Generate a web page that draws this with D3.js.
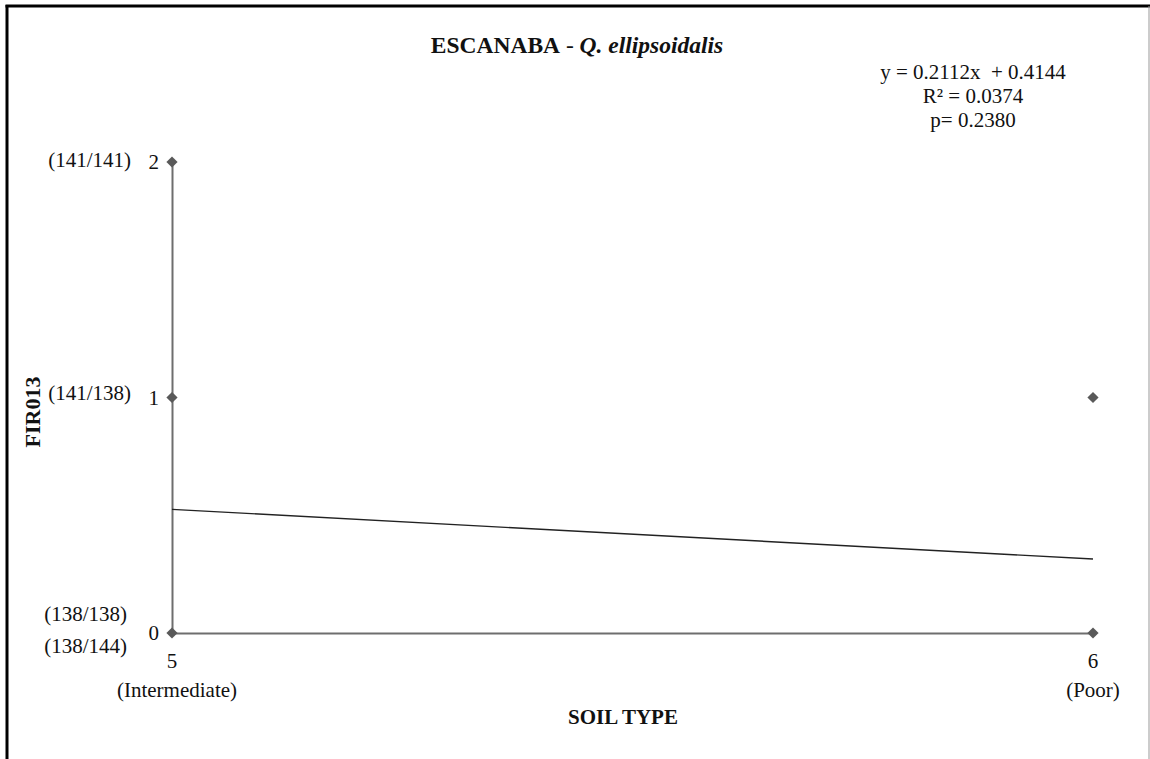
<!DOCTYPE html>
<html>
<head>
<meta charset="utf-8">
<script src="https://cdn.jsdelivr.net/npm/d3@7"></script>
<style>
  html, body { margin: 0; padding: 0; background: #fff; }
  svg { display: block; font-family: "Liberation Serif", "Times New Roman", serif; }
</style>
</head>
<body>
<svg id="chart" width="1150" height="759"></svg>
<script>
// Soil type (x) and FIR013 genotype class (y) for each observation
const soilTypes = [5, 5, 5, 6, 6];
const genotypeClass = [2, 1, 0, 1, 0];

// x-axis ticks and their descriptions
const xTicks = [5, 6];
const xTickNames = ["(Intermediate)", "(Poor)"];

// y-axis ticks and the allele pairs they stand for
const yTicks = [0, 1, 2];
const yTickAlleles = [["(138/138)", "(138/144)"], ["(141/138)"], ["(141/141)"]];

// fitted trend line, evaluated at each end of the soil range
const trendX = [5, 6];
const trendY = [0.525, 0.314];

const statsLines = ["y = 0.2112x  + 0.4144", "R² = 0.0374", "p= 0.2380"];

const svg = d3.select("#chart");
const W = 1150, H = 759;

// frame
svg.append("line").attr("x1", 7).attr("x2", 7).attr("y1", 5).attr("y2", H).attr("stroke", "#000").attr("stroke-width", 3);
svg.append("line").attr("x1", 5.5).attr("x2", W).attr("y1", 6).attr("y2", 6).attr("stroke", "#000").attr("stroke-width", 3);
svg.append("line").attr("x1", 1149).attr("x2", 1149).attr("y1", 6).attr("y2", H).attr("stroke", "#999").attr("stroke-width", 1);

const x = d3.scaleLinear().domain([5, 6]).range([172, 1093]);
const y = d3.scaleLinear().domain([0, 2]).range([633, 162]);

const axisColor = "#6e6e6e";

// axes (no tick marks; labels added separately)
svg.append("g").attr("transform", `translate(0,${y(0)})`)
  .call(d3.axisBottom(x).tickValues(xTicks).tickSize(0).tickFormat(""))
  .call(g => g.select(".domain").attr("stroke", axisColor).attr("stroke-width", 2));
svg.append("g").attr("transform", `translate(${x(5)},0)`)
  .call(d3.axisLeft(y).tickValues(yTicks).tickSize(0).tickFormat(""))
  .call(g => g.select(".domain").attr("stroke", axisColor).attr("stroke-width", 2));

// y tick numbers and allele labels
const fs = 21;
yTicks.forEach((v, i) => {
  svg.append("text").attr("x", 159).attr("y", y(v) + 7).attr("text-anchor", "end")
    .attr("font-size", fs).attr("fill", "#111").text(v);
  const lines = yTickAlleles[i];
  if (lines.length === 1) {
    svg.append("text").attr("x", 131).attr("y", y(v) + (v === 1 ? 2 : 5)).attr("text-anchor", "end")
      .attr("font-size", fs).attr("fill", "#111").text(lines[0]);
  } else {
    lines.forEach((t, j) => {
      svg.append("text").attr("x", 127).attr("y", y(v) - 12 + j * 32).attr("text-anchor", "end")
        .attr("font-size", fs).attr("fill", "#111").text(t);
    });
  }
});

// x tick numbers and soil descriptions
xTicks.forEach((v, i) => {
  svg.append("text").attr("x", x(v)).attr("y", y(0) + 35).attr("text-anchor", "middle")
    .attr("font-size", fs).attr("fill", "#111").text(v);
  svg.append("text").attr("x", x(v) + (i === 0 ? 5 : 0)).attr("y", y(0) + 64).attr("text-anchor", "middle")
    .attr("font-size", fs).attr("fill", "#111").text(xTickNames[i]);
});

// trend line
svg.append("line")
  .attr("x1", x(trendX[0])).attr("y1", y(trendY[0]))
  .attr("x2", x(trendX[1])).attr("y2", y(trendY[1]))
  .attr("stroke", "#222").attr("stroke-width", 1.4);

// observations as diamonds
const diamond = d3.symbol().type(d3.symbolDiamond2).size(80);
svg.append("g").selectAll("path").data(soilTypes.map((s, i) => [s, genotypeClass[i]]))
  .join("path")
  .attr("d", diamond)
  .attr("transform", d => `translate(${x(d[0])},${y(d[1])})`)
  .attr("fill", "#595959");

// title
const title = svg.append("text").attr("x", 577).attr("y", 53).attr("text-anchor", "middle")
  .attr("font-size", 23.5).attr("fill", "#111");
title.append("tspan").attr("font-weight", "bold").text("ESCANABA");
title.append("tspan").text(" - ");
title.append("tspan").attr("font-weight", "bold").attr("font-style", "italic").text("Q. ellipsoidalis");

// regression statistics
statsLines.forEach((t, i) => {
  svg.append("text").attr("x", 973).attr("y", 79 + i * 24).attr("text-anchor", "middle")
    .attr("font-size", 21).attr("fill", "#111").attr("xml:space", "preserve").text(t);
});

// axis titles
svg.append("text").attr("x", 623).attr("y", 724).attr("text-anchor", "middle")
  .attr("font-size", 21).attr("font-weight", "bold").attr("fill", "#111").text("SOIL TYPE");
svg.append("text").attr("transform", "translate(40,412) rotate(-90)").attr("text-anchor", "middle")
  .attr("font-size", 22).attr("font-weight", "bold").attr("fill", "#111").text("FIR013");
</script>
</body>
</html>
